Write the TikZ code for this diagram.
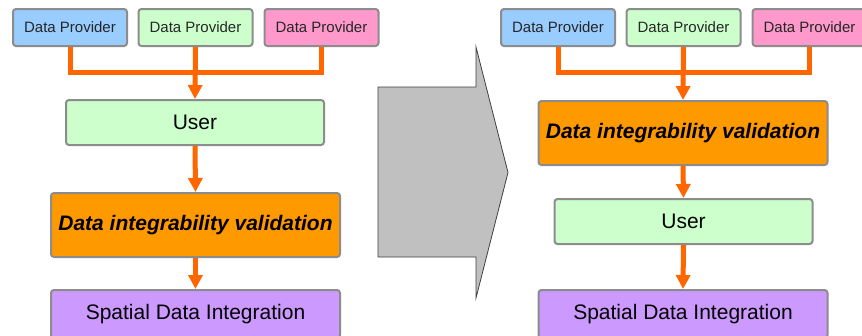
\documentclass[tikz,border=0pt]{standalone}
\usepackage{fontspec}
\setmainfont{Liberation Sans}
\usetikzlibrary{arrows.meta}
\definecolor{bluebox}{HTML}{99CCFF}
\definecolor{greenbox}{HTML}{CCFFCC}
\definecolor{pinkbox}{HTML}{FF99CC}
\definecolor{orangebox}{HTML}{FF9900}
\definecolor{purplebox}{HTML}{CC99FF}
\definecolor{boxedge}{HTML}{8C8C8C}
\definecolor{flow}{HTML}{FF6600}
\definecolor{bigarrow}{HTML}{C0C0C0}
\definecolor{bigedge}{HTML}{404040}
\tikzset{
  box/.style={draw=boxedge, line width=2pt, rounded corners=3pt, inner sep=0pt, align=center, text=black},
  provider/.style={box, minimum width=114pt, minimum height=37pt, font=\fontsize{15}{15}\selectfont, text=black!85},
  bigbox/.style={box, minimum width=258pt, minimum height=45pt, font=\fontsize{21}{21}\selectfont},
  widebox/.style={box, minimum width=289pt, minimum height=64pt, font=\fontsize{21}{21}\selectfont},
  valbox/.style={widebox, fill=orangebox, font=\fontsize{21}{21}\selectfont\bfseries\itshape},
  sdibox/.style={widebox, fill=purplebox, minimum height=48pt},
  flowline/.style={draw=flow, line width=5pt},
  flowarrow/.style={flowline, -{Triangle[width=14pt,length=14pt]}},
}
\begin{document}
\begin{tikzpicture}[x=1pt,y=-1pt]
\useasboundingbox (0,0) rectangle (862,335);
\fill[white] (0,0) rectangle (862,335);

% ---- left ----
\node[provider, fill=bluebox]  (l1) at (70,27.5) {Data Provider};
\node[provider, fill=greenbox] (l2) at (195.5,27.5) {Data Provider};
\node[provider, fill=pinkbox]  (l3) at (321.5,27.5) {Data Provider};
\node[bigbox, fill=greenbox]   (lu) at (195,122.5) {User};
\node[valbox] (lv) at (195.5,225) {Data integrability validation};
\node[sdibox] (ls) at (195.5,314) {Spatial Data Integration};
\coordinate (lj) at (195.5,72);

\draw[flowline] (l1.south) -- (l1.south |- lj) -- (l3.south |- lj) -- (l3.south);
\draw[flowarrow] (l2.south) -- (lu.north);
\draw[flowarrow] (lu.south) -- (lv.north);
\draw[flowarrow] (lv.south) -- (ls.north);

% ---- big arrow ----
\draw[fill=bigarrow, draw=bigedge, line width=0.8pt]
  (378,87) -- (476,87) -- (476,47) -- (508,172.5) -- (476,298) -- (476,257) -- (378,257) -- cycle;

% ---- right ----
\node[provider, fill=bluebox]  (r1) at (558,27.5) {Data Provider};
\node[provider, fill=greenbox] (r2) at (683.5,27.5) {Data Provider};
\node[provider, fill=pinkbox]  (r3) at (809.5,27.5) {Data Provider};
\node[valbox] (rv) at (683,133) {Data integrability validation};
\node[bigbox, fill=greenbox]   (ru) at (683.5,221.5) {User};
\node[sdibox] (rs) at (683,314) {Spatial Data Integration};
\coordinate (rj) at (683.5,72);

\draw[flowline] (r1.south) -- (r1.south |- rj) -- (r3.south |- rj) -- (r3.south);
\draw[flowarrow] (r2.south) -- (rv.north);
\draw[flowarrow] (rv.south) -- (ru.north);
\draw[flowarrow] (ru.south) -- (rs.north);
\end{tikzpicture}
\end{document}
